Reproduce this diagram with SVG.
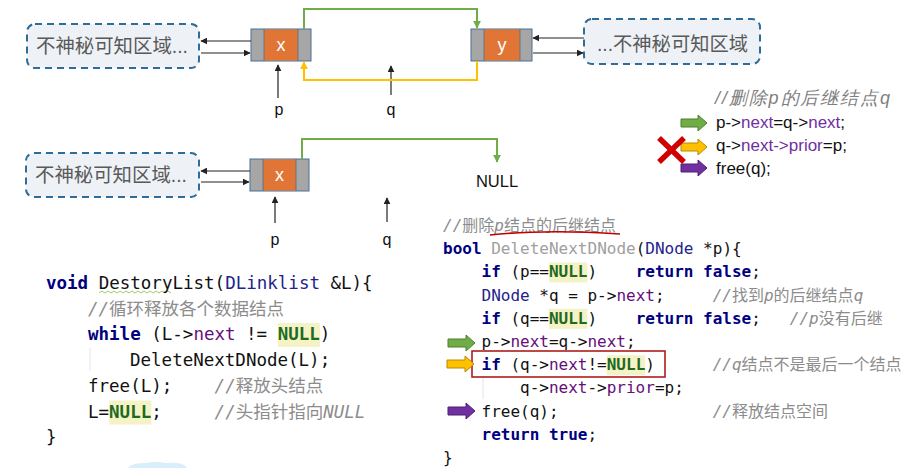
<svg xmlns="http://www.w3.org/2000/svg" width="919" height="468" viewBox="0 0 919 468">
<style>
.box{fill:#eef2f7;stroke:#2f6c98;stroke-width:2;stroke-dasharray:7 5}
.boxt{font-family:"Liberation Sans","Noto Sans CJK SC",sans-serif;font-size:19.5px;fill:#595959}
.gray{fill:#a6a6a6;stroke:#4a6f90;stroke-width:1}
.org{fill:#e07535}
.nt{font-family:"Liberation Sans",sans-serif;font-size:18px;fill:#fff;text-anchor:middle}
.lab{font-family:"Liberation Sans",sans-serif;font-size:16px;fill:#111;text-anchor:middle}
.thin{stroke:#222;stroke-width:1.2;fill:none}
.grn{stroke:#70ad47;stroke-width:2;fill:none}
.yel{stroke:#ffc000;stroke-width:2;fill:none}
.leg{font-family:"Liberation Sans",sans-serif;font-size:17px;fill:#111}
.pur{fill:#660e7a}
.lpur{fill:#7030a0}
.code{font-family:"DejaVu Sans Mono","Noto Sans CJK SC",monospace;fill:#111}
.cl{font-size:17.5px}
.cr{font-size:16px}
.kw{fill:#000080;font-weight:bold}
.ty{fill:#22228a}
.nul{fill:#1e6b1e;font-weight:bold}
.cm{fill:#8c8c8c}
.it{font-style:italic}
.hl{fill:#f5f2c6}
.guide{stroke:#e4e4e4;stroke-width:1}
</style>
<defs>
<marker id="ah" viewBox="0 0 10 10" refX="9" refY="5" markerWidth="7" markerHeight="7" markerUnits="userSpaceOnUse" orient="auto"><path d="M0,0 L10,5 L0,10 Z" fill="#222"/></marker>
<marker id="ahg" viewBox="0 0 10 10" refX="9" refY="5" markerWidth="8" markerHeight="8" markerUnits="userSpaceOnUse" orient="auto"><path d="M0,0 L10,5 L0,10 Z" fill="#70ad47"/></marker>
<marker id="ahy" viewBox="0 0 10 10" refX="9" refY="5" markerWidth="8" markerHeight="8" markerUnits="userSpaceOnUse" orient="auto"><path d="M0,0 L10,5 L0,10 Z" fill="#ffc000"/></marker>
</defs>
<rect width="919" height="468" fill="#fff"/>

<!-- Top row -->
<g id="boxL1">
<rect class="box" x="27" y="24" width="172" height="44" rx="8"/>
<text class="boxt" x="36" y="53" textLength="152" lengthAdjust="spacingAndGlyphs">不神秘可知区域...</text>
</g>
<g id="nodeX1">
<rect class="gray" x="251" y="29" width="60" height="32"/>
<rect class="org" x="264" y="29.5" width="34" height="31"/>
<line x1="264" y1="29" x2="264" y2="61" stroke="#4a6f90" stroke-width="0.8"/>
<line x1="298" y1="29" x2="298" y2="61" stroke="#4a6f90" stroke-width="0.8"/>
<text class="nt" x="281" y="51">x</text>
</g>
<g id="nodeY">
<rect class="gray" x="471" y="29" width="61" height="32"/>
<rect class="org" x="484" y="29.5" width="36" height="31"/>
<line x1="484" y1="29" x2="484" y2="61" stroke="#4a6f90" stroke-width="0.8"/>
<line x1="520" y1="29" x2="520" y2="61" stroke="#4a6f90" stroke-width="0.8"/>
<text class="nt" x="502" y="51">y</text>
</g>
<g id="boxR1">
<rect class="box" x="584" y="19" width="176" height="45" rx="8"/>
<text class="boxt" x="597" y="51" textLength="151" lengthAdjust="spacingAndGlyphs">...不神秘可知区域</text>
</g>
<g id="labP1"><text class="lab" x="279" y="115">p</text></g>
<g id="labQ1"><text class="lab" x="391" y="115">q</text></g>

<!-- Second row -->
<g id="boxL2">
<rect class="box" x="26" y="153" width="173" height="44" rx="8"/>
<text class="boxt" x="35" y="182" textLength="152" lengthAdjust="spacingAndGlyphs">不神秘可知区域...</text>
</g>
<g id="nodeX2">
<rect class="gray" x="250" y="159" width="59" height="32"/>
<rect class="org" x="263" y="159.5" width="33" height="31"/>
<line x1="263" y1="159" x2="263" y2="191" stroke="#4a6f90" stroke-width="0.8"/>
<line x1="296" y1="159" x2="296" y2="191" stroke="#4a6f90" stroke-width="0.8"/>
<text class="nt" x="279.5" y="181">x</text>
</g>
<g id="null2"><text class="lab" x="497" y="187" style="font-size:16.5px">NULL</text></g>
<g id="labP2"><text class="lab" x="275" y="245">p</text></g>
<g id="labQ2"><text class="lab" x="387" y="245">q</text></g>

<!-- Connectors -->
<g id="connectors">
<line class="thin" x1="251" y1="41" x2="201" y2="41" marker-end="url(#ah)"/>
<line class="thin" x1="201" y1="53" x2="250" y2="53" marker-end="url(#ah)"/>
<line class="thin" x1="584" y1="38" x2="533" y2="38" marker-end="url(#ah)"/>
<line class="thin" x1="533" y1="53" x2="583" y2="53" marker-end="url(#ah)"/>
<line class="thin" x1="278" y1="98" x2="278" y2="65" marker-end="url(#ah)"/>
<line class="thin" x1="391" y1="95" x2="391" y2="66" marker-end="url(#ah)"/>
<polyline class="grn" points="304,29 304,9 477,9 477,28" marker-end="url(#ahg)"/>
<polyline class="yel" points="477,61 477,80 304,80 304,62" marker-end="url(#ahy)"/>
<line class="thin" x1="250" y1="171" x2="201" y2="171" marker-end="url(#ah)"/>
<line class="thin" x1="201" y1="182" x2="249" y2="182" marker-end="url(#ah)"/>
<line class="thin" x1="275" y1="223" x2="275" y2="197" marker-end="url(#ah)"/>
<line class="thin" x1="387" y1="222" x2="387" y2="198" marker-end="url(#ah)"/>
<polyline class="grn" points="302,159 302,139 497,139 497,162" marker-end="url(#ahg)"/>
</g>

<!-- Legend -->
<g id="legend">
<text class="leg it" x="715" y="104" fill="#7f7f7f" style="fill:#7f7f7f;font-size:18px" textLength="175" lengthAdjust="spacing">//删除p的后继结点q</text>
<text class="leg" x="716" y="128">p-&gt;<tspan class="lpur">next</tspan>=q-&gt;<tspan class="lpur">next</tspan>;</text>
<text class="leg" x="716" y="151">q-&gt;<tspan class="lpur">next-&gt;prior</tspan>=p;</text>
<text class="leg" x="716" y="174">free(q);</text>
<path d="M681,119 H698 V115 L707,123 L698,131 V127 H681 Z" fill="#70ad47" stroke="#4f7f32" stroke-width="1"/>
<path d="M681,143 H698 V139 L707,147 L698,155 V151 H681 Z" fill="#ffc000" stroke="#b88a00" stroke-width="1"/>
<path d="M681,164 H698 V160 L707,168 L698,176 V172 H681 Z" fill="#7030a0" stroke="#4f1f75" stroke-width="1"/>
<line x1="659" y1="138" x2="684" y2="162" stroke="#d00000" stroke-width="5.5"/>
<line x1="684" y1="138" x2="659" y2="162" stroke="#d00000" stroke-width="5.5"/>
</g>

<!-- Left code -->
<g id="codeLeft">
<rect class="hl" x="277.8" y="323" width="42.1" height="24"/>
<rect class="hl" x="109.2" y="400.5" width="42.1" height="24"/>
<line class="guide" x1="90" y1="348" x2="90" y2="371"/>
<polyline points="99,293 102,291 105,293 108,291 111,293 114,291 117,293 120,291 123,293 126,291 129,293 132,291 135,293 138,291 141,293 144,291 147,293 150,291 153,293 156,291 159,293 162,291 165,293 168,291 171,293" fill="none" stroke="#9ccc65" stroke-width="1"/>
<text class="code cl" x="46" y="289" xml:space="preserve"><tspan class="kw">void</tspan> DestoryList(<tspan class="ty">DLinklist</tspan> &amp;L){</text>
<text class="code cl cm" x="88" y="314.7"><tspan class="it">//</tspan>循环释放各个数据结点</text>
<text class="code cl" x="88" y="340.4" xml:space="preserve"><tspan class="kw">while</tspan> (L-&gt;<tspan class="pur">next</tspan> != <tspan class="nul">NULL</tspan>)</text>
<text class="code cl" x="130" y="366.1">DeleteNextDNode(L);</text>
<text class="code cl" x="88" y="391.8">free(L);</text>
<text class="code cl cm" x="214.6" y="391.8"><tspan class="it">//</tspan>释放头结点</text>
<text class="code cl" x="88" y="417.5">L=<tspan class="nul">NULL</tspan>;</text>
<text class="code cl cm" x="214.6" y="417.5"><tspan class="it">//</tspan>头指针指向<tspan class="it">NULL</tspan></text>
<text class="code cl" x="46" y="443.2">}</text>
</g>

<!-- Right code -->
<g id="codeRight">
<rect class="hl" x="548.9" y="262.4" width="38.5" height="20"/>
<rect class="hl" x="548.9" y="308.8" width="38.5" height="20"/>
<rect class="hl" x="606.7" y="355.2" width="38.5" height="20"/>
<line class="guide" x1="483" y1="376" x2="483" y2="399"/>
<text class="code cr cm" x="443" y="231"><tspan class="it">//</tspan>删除<tspan class="it">p</tspan>结点的后继结点</text>
<path d="M490,235 Q545,229 620,234" fill="none" stroke="#c00000" stroke-width="1.6"/>
<text class="code cr" x="443" y="254.2" xml:space="preserve"><tspan class="kw">bool</tspan> <tspan fill="#a0a0a0">DeleteNextDNode</tspan>(<tspan class="ty">DNode</tspan> *p){</text>
<text class="code cr" x="481.5" y="277.4" xml:space="preserve"><tspan class="kw">if</tspan> (p==<tspan class="nul">NULL</tspan>)    <tspan class="kw">return false</tspan>;</text>
<text class="code cr" x="481.5" y="300.6" xml:space="preserve"><tspan class="ty">DNode</tspan> *q = p-&gt;<tspan class="pur">next</tspan>;</text>
<text class="code cr cm" x="712.7" y="300.6"><tspan class="it">//</tspan>找到<tspan class="it">p</tspan>的后继结点<tspan class="it">q</tspan></text>
<text class="code cr" x="481.5" y="323.8" xml:space="preserve"><tspan class="kw">if</tspan> (q==<tspan class="nul">NULL</tspan>)    <tspan class="kw">return false</tspan>;</text>
<text class="code cr cm" x="789.8" y="323.8"><tspan class="it">//p</tspan>没有后继</text>
<text class="code cr" x="481.5" y="347">p-&gt;<tspan class="pur">next</tspan>=q-&gt;<tspan class="pur">next</tspan>;</text>
<rect x="472" y="351" width="193" height="26" fill="none" stroke="#b01c1c" stroke-width="1.6"/>
<text class="code cr" x="481.5" y="370.2" xml:space="preserve"><tspan class="kw">if</tspan> (q-&gt;<tspan class="pur">next</tspan>!=<tspan class="nul">NULL</tspan>)</text>
<text class="code cr cm" x="712.7" y="370.2"><tspan class="it">//q</tspan>结点不是最后一个结点</text>
<text class="code cr" x="520" y="393.4">q-&gt;<tspan class="pur">next</tspan>-&gt;<tspan class="pur">prior</tspan>=p;</text>
<text class="code cr" x="481.5" y="416.6">free(q);</text>
<text class="code cr cm" x="712.7" y="416.6"><tspan class="it">//</tspan>释放结点空间</text>
<text class="code cr" x="481.5" y="439.8" xml:space="preserve"><tspan class="kw">return true</tspan>;</text>
<text class="code cr" x="443" y="463">}</text>
<path d="M448,339 H466 V335 L475,343 L466,351 V347 H448 Z" fill="#70ad47" stroke="#4f7f32" stroke-width="1"/>
<path d="M447,360 H465 V356 L474,364 L465,372 V368 H447 Z" fill="#ffc000" stroke="#b88a00" stroke-width="1"/>
<path d="M448,407 H466 V403 L475,411 L466,419 V415 H448 Z" fill="#7030a0" stroke="#4f1f75" stroke-width="1"/>
</g>

<path d="M128,468 Q131,463 146,463 Q156,461 166,463 Q184,462 187,468 Z" fill="#d8eefa"/>
</svg>
